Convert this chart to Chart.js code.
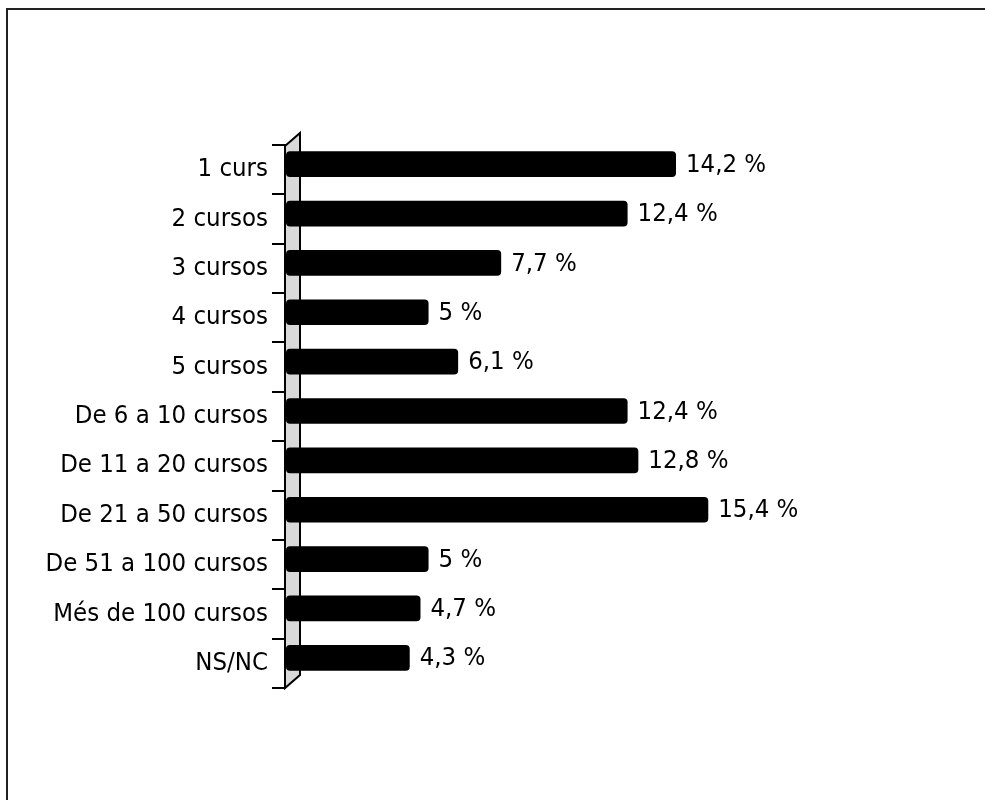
<!DOCTYPE html>
<html>
<head>
<meta charset="utf-8">
<script src="https://cdn.jsdelivr.net/npm/chart.js@4.4.0/dist/chart.umd.min.js"></script>
<style>
  html, body { margin: 0; padding: 0; background: #fff; }
  #wrap { position: relative; width: 985px; height: 800px; }
</style>
</head>
<body>
<div id="wrap"><canvas id="chart-cursos"></canvas></div>
<script>
const categories = ['1 curs', '2 cursos', '3 cursos', '4 cursos', '5 cursos', 'De 6 a 10 cursos',
  'De 11 a 20 cursos', 'De 21 a 50 cursos', 'De 51 a 100 cursos', 'Més de 100 cursos', 'NS/NC'];
const percentages = [14.2, 12.4, 7.7, 5, 6.1, 12.4, 12.8, 15.4, 5, 4.7, 4.3];
const xMin = -0.3;
const xMax = 20;

const fontFamily = "'DejaVu Sans Condensed', 'DejaVu Sans', sans-serif";
const barShift = -5.5; // bars sit a bit higher than the band centre (3D look)

function formatPct(v) {
  return String(v).replace('.', ',') + ' %';
}

// outer frame: only top and left edges are visible
const framePlugin = {
  id: 'frame',
  afterDraw(chart) {
    const ctx = chart.ctx;
    ctx.save();
    ctx.strokeStyle = '#222';
    ctx.lineWidth = 2;
    ctx.beginPath();
    ctx.moveTo(985, 9);
    ctx.lineTo(7, 9);
    ctx.lineTo(7, 800);
    ctx.stroke();
    ctx.restore();
  }
};

// grey 3D wall behind the category axis + value labels
const wallPlugin = {
  id: 'wall',
  beforeDatasetsDraw(chart) {
    const ctx = chart.ctx;
    const area = chart.chartArea;
    const x0 = area.left - 1, dx = 15, dy = 13;
    ctx.save();
    ctx.beginPath();
    ctx.moveTo(x0, area.top + 1);
    ctx.lineTo(x0 + dx, area.top + 1 - dy);
    ctx.lineTo(x0 + dx, area.bottom - dy);
    ctx.lineTo(x0, area.bottom);
    ctx.closePath();
    ctx.fillStyle = '#d9d9d9';
    ctx.fill();
    ctx.strokeStyle = '#000';
    ctx.lineWidth = 2;
    ctx.stroke();
    ctx.restore();

    ctx.save();
    ctx.translate(0, barShift);
  },
  afterDatasetsDraw(chart) {
    const ctx = chart.ctx;
    const meta = chart.getDatasetMeta(0);
    ctx.fillStyle = '#000';
    ctx.font = '25.5px ' + fontFamily;
    ctx.textAlign = 'left';
    ctx.textBaseline = 'middle';
    meta.data.forEach((bar, i) => {
      ctx.fillText(formatPct(percentages[i]), bar.x + 10, bar.y + 1);
    });
    ctx.restore();
  }
};

new Chart(document.getElementById('chart-cursos'), {
  type: 'bar',
  data: {
    labels: categories,
    datasets: [{
      data: percentages,
      base: xMin,
      backgroundColor: '#000',
      borderWidth: 0,
      borderRadius: 4,
      borderSkipped: false,
      categoryPercentage: 1,
      barPercentage: 0.52
    }]
  },
  options: {
    indexAxis: 'y',
    responsive: true,
    maintainAspectRatio: false,
    devicePixelRatio: 1,
    animation: false,
    layout: { padding: { top: 145, bottom: 112, left: 0, right: 153 } },
    plugins: {
      legend: { display: false },
      tooltip: { enabled: false }
    },
    scales: {
      x: {
        display: false,
        min: xMin,
        max: xMax
      },
      y: {
        afterFit(scale) { scale.width = 286; },
        border: { display: false },
        grid: {
          offset: true,
          drawOnChartArea: false,
          drawTicks: true,
          tickLength: 14,
          color: '#000',
          lineWidth: 2
        },
        ticks: {
          padding: 4,
          color: '#000',
          font: { family: fontFamily, size: 25.5 }
        }
      }
    }
  },
  plugins: [framePlugin, wallPlugin]
});
</script>
</body>
</html>
